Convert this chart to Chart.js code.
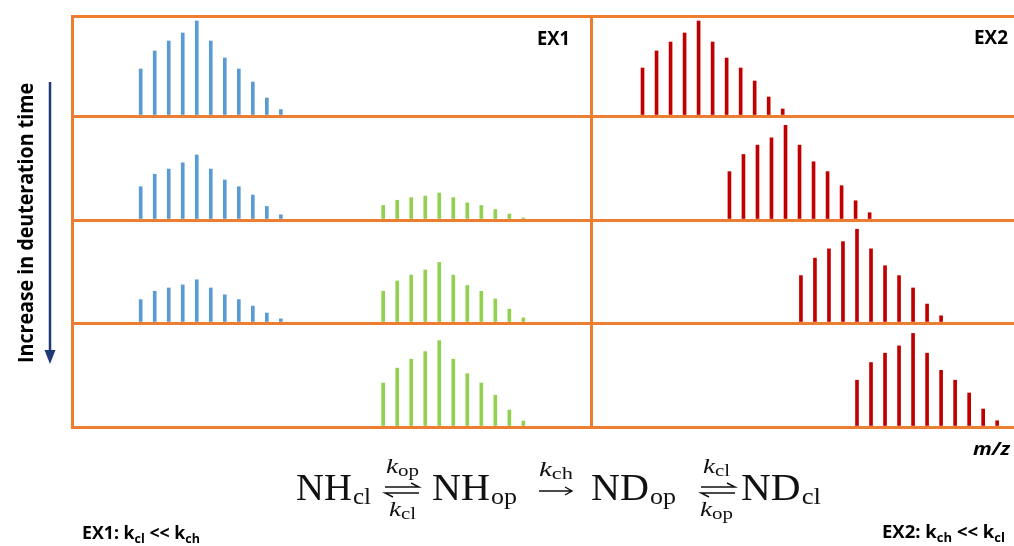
<!DOCTYPE html>
<html><head><meta charset="utf-8">
<script src="https://cdn.jsdelivr.net/npm/chart.js@4.4.0/dist/chart.umd.min.js"></script>
<style>html,body{margin:0;padding:0;background:#fff;}canvas{display:block;}</style>
</head><body>
<canvas id="c" width="1014" height="546"></canvas>
<script>
// ---- data (m/z in arbitrary isotope units, intensity in % of row height) ----
const ROW_AXES = ['y1', 'y2', 'y3', 'y4'];          // deuteration time rows, top to bottom
const ROW_WEIGHTS = [100, 104, 103, 104];
const DIVIDER_MZ = 37.05;
const MZ_MAX = 67.2;

const BLUE_MZ   = [4.9, 5.9, 6.9, 7.9, 8.9, 9.9, 10.9, 11.9, 12.9, 13.9, 14.9];
const GREEN_MZ  = [22.2, 23.2, 24.2, 25.2, 26.2, 27.2, 28.2, 29.2, 30.2, 31.2, 32.2];
const RED_MZ_T1 = [40.7, 41.7, 42.7, 43.7, 44.7, 45.7, 46.7, 47.7, 48.7, 49.7, 50.7];
const RED_MZ_T2 = [46.9, 47.9, 48.9, 49.9, 50.9, 51.9, 52.9, 53.9, 54.9, 55.9, 56.9];
const RED_MZ_T3 = [52.0, 53.0, 54.0, 55.0, 56.0, 57.0, 58.0, 59.0, 60.0, 61.0, 62.0];
const RED_MZ_T4 = [56.0, 57.0, 58.0, 59.0, 60.0, 61.0, 62.0, 63.0, 64.0, 65.0, 66.0];

const BLUE_T1  = [47, 65, 75, 83, 95, 75, 58, 47, 34, 18, 6.5];
const BLUE_T2  = [32, 44, 49, 55, 62.5, 49, 38.5, 32, 24, 13, 5];
const BLUE_T3  = [22.7, 30.8, 34, 37, 42, 34, 27.4, 22.7, 16.4, 9.7, 4];
const GREEN_T2 = [14, 19, 21.5, 23, 26, 21.5, 16.5, 14, 10, 5.7, 2];
const GREEN_T3 = [30.8, 40.8, 46.5, 51.5, 58.8, 46.5, 36.4, 30.8, 23.4, 13.4, 5];
const GREEN_T4 = [42.3, 56.6, 65.2, 72.5, 83, 65.2, 51.3, 42.3, 30.5, 16.3, 5.7];
const RED_T1   = [48, 65, 74, 83, 95, 74, 58, 48, 35, 19, 7];
const RED_T2   = [46.5, 63, 72, 79, 91, 72, 56, 46.5, 33, 18.5, 7];
const RED_T3   = [46, 63, 72, 79, 91, 72, 55.6, 46, 34, 18.4, 7];
const RED_T4   = [45, 62, 71, 78, 90, 71, 54.5, 45, 32.7, 17.3, 6];

// ---- styles ----
const ORANGE = '#ED7D31', BLUE = '#5B9BD5', GREEN = '#92D050', RED = '#C00000', NAVY = '#1F3A75';

function pts(mz, inten) { return mz.map((x, i) => ({ x: x, y: inten[i] })); }
function ds(label, mz, inten, color, axis) {
  return { label, data: pts(mz, inten), backgroundColor: color, borderWidth: 0,
           barThickness: 3, grouped: false, yAxisID: axis };
}

const datasets = [
  ds('EX1 NH t1', BLUE_MZ, BLUE_T1, BLUE, 'y1'),
  ds('EX1 NH t2', BLUE_MZ, BLUE_T2, BLUE, 'y2'),
  ds('EX1 NH t3', BLUE_MZ, BLUE_T3, BLUE, 'y3'),
  ds('EX1 ND t2', GREEN_MZ, GREEN_T2, GREEN, 'y2'),
  ds('EX1 ND t3', GREEN_MZ, GREEN_T3, GREEN, 'y3'),
  ds('EX1 ND t4', GREEN_MZ, GREEN_T4, GREEN, 'y4'),
  ds('EX2 t1', RED_MZ_T1, RED_T1, RED, 'y1'),
  ds('EX2 t2', RED_MZ_T2, RED_T2, RED, 'y2'),
  ds('EX2 t3', RED_MZ_T3, RED_T3, RED, 'y3'),
  ds('EX2 t4', RED_MZ_T4, RED_T4, RED, 'y4')
];

const scales = {
  x: {
    type: 'linear', min: 0, max: MZ_MAX, offset: false,
    afterBuildTicks: (s) => { s.ticks = [{ value: DIVIDER_MZ }]; },
    ticks: { display: false },
    grid: { color: ORANGE, lineWidth: 3, drawTicks: false, offset: false },
    border: { color: ORANGE, width: 3 }
  }
};
// stacked left axes are laid out bottom-up, so register the bottom row first
for (let i = ROW_AXES.length - 1; i >= 0; i--) {
  scales[ROW_AXES[i]] = {
    type: 'linear', position: 'left', stack: 'rows', stackWeight: ROW_WEIGHTS[i],
    min: 0, max: 100, offset: false,
    ticks: { display: false, stepSize: 100 },
    grid: { color: ORANGE, lineWidth: 3, drawTicks: false },
    border: { color: ORANGE, width: 3 }
  };
}

function drawRuns(ctx, runs, x, y, targetW) {
  let total = 0;
  runs.forEach(r => { ctx.font = r.font; r.w = ctx.measureText(r.t).width + (r.gap || 0); total += r.w; });
  const s = targetW ? targetW / total : 1;
  ctx.save();
  ctx.translate(x, y);
  ctx.scale(s, 1);
  let cx = 0;
  runs.forEach(r => { ctx.font = r.font; ctx.fillText(r.t, cx, r.dy || 0); cx += r.w; });
  ctx.restore();
}

function harpoonRight(ctx, x1, x2, y) {
  ctx.beginPath(); ctx.moveTo(x1, y); ctx.lineTo(x2, y); ctx.lineTo(x2 - 8, y - 4); ctx.stroke();
}
function harpoonLeft(ctx, x1, x2, y) {
  ctx.beginPath(); ctx.moveTo(x2, y); ctx.lineTo(x1, y); ctx.lineTo(x1 + 8, y + 4); ctx.stroke();
}
function arrowRight(ctx, x1, x2, y) {
  ctx.beginPath(); ctx.moveTo(x1, y); ctx.lineTo(x2, y);
  ctx.moveTo(x2 - 7, y - 4); ctx.lineTo(x2, y); ctx.lineTo(x2 - 7, y + 4); ctx.stroke();
}

const annotations = {
  id: 'annotations',
  afterDraw(chart) {
    const ctx = chart.ctx;
    ctx.save();
    ctx.fillStyle = '#000';
    ctx.textBaseline = 'alphabetic';
    ctx.textAlign = 'left';
    const B = (sz) => 'bold ' + sz + 'px "Open Sans"';
    // panel labels
    drawRuns(ctx, [{ t: 'EX1', font: B(20) }], 537, 45, 33);
    drawRuns(ctx, [{ t: 'EX2', font: B(20) }], 974, 44, 34);
    // m/z
    drawRuns(ctx, [{ t: 'm/z', font: 'italic bold 18px "Open Sans"' }], 973, 455, 37);
    // bottom regime labels
    drawRuns(ctx, [
      { t: 'EX1: k', font: B(17) }, { t: 'cl', font: B(12), dy: 4 },
      { t: ' << k', font: B(17) }, { t: 'ch', font: B(12), dy: 4 }
    ], 82, 539, 118);
    drawRuns(ctx, [
      { t: 'EX2: k', font: B(17) }, { t: 'ch', font: B(12), dy: 4 },
      { t: ' << k', font: B(17) }, { t: 'cl', font: B(12), dy: 4 }
    ], 882, 538, 123);
    // vertical label
    ctx.save();
    ctx.translate(33, 223);
    ctx.rotate(-Math.PI / 2);
    drawRuns(ctx, [{ t: 'Increase in deuteration time', font: B(22) }], -140, 0, 280);
    ctx.restore();
    // arrow
    ctx.strokeStyle = NAVY; ctx.fillStyle = NAVY; ctx.lineWidth = 2.5;
    ctx.beginPath(); ctx.moveTo(50, 82); ctx.lineTo(50, 352); ctx.stroke();
    ctx.beginPath(); ctx.moveTo(44.5, 350); ctx.lineTo(55.5, 350); ctx.lineTo(50, 364); ctx.closePath(); ctx.fill();

    // equation
    ctx.fillStyle = '#111'; ctx.strokeStyle = '#111'; ctx.lineWidth = 1.4;
    const S = (sz) => sz + 'px "Liberation Serif"';
    const I = (sz) => 'italic ' + sz + 'px "Liberation Serif"';
    drawRuns(ctx, [{ t: 'NH', font: S(37), gap: 1 }, { t: 'cl', font: S(24), dy: 4 }], 296, 500, 75);
    harpoonRight(ctx, 385, 419, 487); harpoonLeft(ctx, 385, 419, 493);
    drawRuns(ctx, [{ t: 'k', font: I(22) }, { t: 'op', font: S(17), dy: 3 }], 386, 473, 33);
    drawRuns(ctx, [{ t: 'k', font: I(22) }, { t: 'cl', font: S(17), dy: 3 }], 389, 516, 27);
    drawRuns(ctx, [{ t: 'NH', font: S(37), gap: 1 }, { t: 'op', font: S(24), dy: 4 }], 432, 500, 85);
    drawRuns(ctx, [{ t: 'k', font: I(22) }, { t: 'ch', font: S(17), dy: 3 }], 539, 476, 34);
    arrowRight(ctx, 539, 572, 491);
    drawRuns(ctx, [{ t: 'ND', font: S(37), gap: 1 }, { t: 'op', font: S(24), dy: 4 }], 591, 500, 85);
    harpoonRight(ctx, 701, 735, 487); harpoonLeft(ctx, 701, 735, 493);
    drawRuns(ctx, [{ t: 'k', font: I(22) }, { t: 'cl', font: S(17), dy: 3 }], 703, 473, 27);
    drawRuns(ctx, [{ t: 'k', font: I(22) }, { t: 'op', font: S(17), dy: 3 }], 700, 516, 33);
    drawRuns(ctx, [{ t: 'ND', font: S(37), gap: 1 }, { t: 'cl', font: S(24), dy: 4 }], 741, 500, 80);
    ctx.restore();
  }
};

new Chart(document.getElementById('c'), {
  type: 'bar',
  data: { datasets },
  options: {
    responsive: false,
    animation: false,
    layout: { padding: { left: 72, right: 0, top: 16, bottom: 119 } },
    plugins: { legend: { display: false }, tooltip: { enabled: false } },
    scales
  },
  plugins: [annotations]
});
</script>
</body></html>
